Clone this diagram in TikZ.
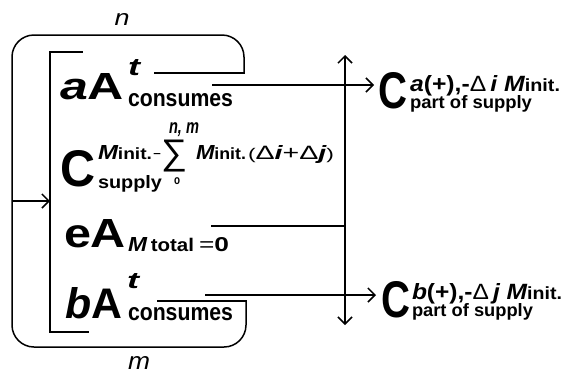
\documentclass[tikz,border=0pt]{standalone}
\usepackage{graphicx}
\usepackage{fontspec}
\setmainfont{Liberation Sans}
\usetikzlibrary{arrows.meta}
\newcommand\fitbox[3]{\resizebox{#1pt}{#2pt}{#3}}
\newcommand\fitboxt[3]{\resizebox*{#1pt}{#2pt}{#3}}
\tikzset{
  txt/.style={anchor=base west,inner sep=0pt,outer sep=0pt},
  ctxt/.style={anchor=center,inner sep=0pt,outer sep=0pt},
  ln/.style={line width=1.5pt,line cap=rect},
  arr/.style={line width=1.5pt,-{Straight Barb[length=7pt,width=14pt,line width=1.5pt]}},
  darr/.style={line width=1.5pt,{Straight Barb[length=7pt,width=14pt,line width=1.5pt]}-{Straight Barb[length=7pt,width=14pt,line width=1.5pt]}}
}
\begin{document}
\begin{tikzpicture}[x=1pt,y=-1pt]
\useasboundingbox (0,0) rectangle (564,376);
% labels n, m
\node[ctxt] (n) at (122,19) {\fitboxt{15}{12}{\itshape n}};
\node[ctxt] (m) at (139,363) {\fitboxt{22}{13}{\itshape m}};
% frame
\draw[ln] (155,73) -- (244,73);
\draw[ln,rounded corners=22pt] (244,73) -- (244,35) -- (12,35) -- (12,347) -- (246,347) -- (246,301);
\draw[ln] (246,301) -- (158,301);
% inner bracket
\draw[ln] (82,52) -- (50,52) -- (50,332) -- (88,332);
\coordinate (inL) at (12,201);
\coordinate (inR) at (50,201);
\draw[arr] (inL) -- (inR);
% line 1
\node[txt] (aA) at (60,99) {\fitbox{64}{26}{\bfseries\itshape a\upshape A}};
\node[txt] (t1) at (128,75) {\fitbox{12}{16}{\bfseries\itshape t}};
\node[txt] (cons1) at (128,106) {\fitbox{105}{13}{\bfseries consumes}};
% line 2
\node[txt] (Cs) at (60,186) {\fitbox{35}{36}{\bfseries C}};
\node[txt] (Mi1) at (98,159) {\fitbox{54}{14}{\bfseries\itshape M\upshape\footnotesize init.}};
\node[txt] (minus) at (153,159) {\fitbox{8}{6}{−}};
\node[ctxt] (sum) at (174,156) {\fitboxt{26}{32}{∑}};
\node[ctxt] (nm) at (184,130) {\fitboxt{30}{14}{\bfseries\itshape n, m}};
\node[ctxt] (zero) at (177,181) {\fitboxt{6}{7}{\bfseries o}};
\node[txt] (Mi2) at (196,159) {\fitbox{50}{14}{\bfseries\itshape M\upshape\footnotesize init.}};
\node[txt] (dd) at (248,159) {\fitbox{86}{14}{{\footnotesize(}Δ{\bfseries\itshape i}+Δ{\bfseries\itshape j}{\footnotesize)}}};
\node[txt] (sup) at (98,188) {\fitbox{64}{13}{\bfseries supply}};
% line 3
\node[txt] (eA) at (64,247) {\fitbox{62}{28}{\bfseries eA}};
\node[txt] (Mt) at (128,251) {\fitbox{66}{14}{\bfseries\itshape M\upshape\,\small total}};
\node[txt] (eq) at (199,251) {\fitbox{30}{14}{=\bfseries 0}};
% line 4
\node[txt] (bA) at (65,318) {\fitbox{57}{31}{\bfseries\itshape b\upshape A}};
\node[txt] (t2) at (127,288) {\fitbox{12}{15}{\bfseries\itshape t}};
\node[txt] (cons2) at (128,320) {\fitbox{105}{13}{\bfseries consumes}};
% right labels
\node[txt] (Ca) at (378,108) {\fitbox{29}{36}{\bfseries C}};
\node[txt] (Casup) at (410,91) {\fitbox{150}{16}{{\bfseries\itshape a}{\bfseries(+),-}Δ\,{\bfseries\itshape i}\ {\bfseries\itshape M\upshape\footnotesize init.}}};
\node[txt] (Casub) at (410,108) {\fitbox{122}{13}{\bfseries part of supply}};
\node[txt] (Cb) at (381,317) {\fitbox{29}{36}{\bfseries C}};
\node[txt] (Cbsup) at (412,299) {\fitbox{150}{16}{{\bfseries\itshape b}{\bfseries(+),-}Δ\,{\bfseries\itshape j}\ {\bfseries\itshape M\upshape\footnotesize init.}}};
\node[txt] (Cbsub) at (412,316) {\fitbox{121}{13}{\bfseries part of supply}};
% connectors
\coordinate (a0) at (212,85);
\coordinate (a1) at (374,85);
\coordinate (e0) at (212,226);
\coordinate (e1) at (345,226);
\coordinate (b0) at (205,295);
\coordinate (b1) at (376,295);
\coordinate (vt) at (345,55);
\coordinate (vb) at (345,325);
\draw[arr] (a0) -- (a1);
\draw[ln] (e0) -- (e1);
\draw[arr] (b0) -- (b1);
\draw[darr] (vt) -- (vb);
\end{tikzpicture}
\end{document}
